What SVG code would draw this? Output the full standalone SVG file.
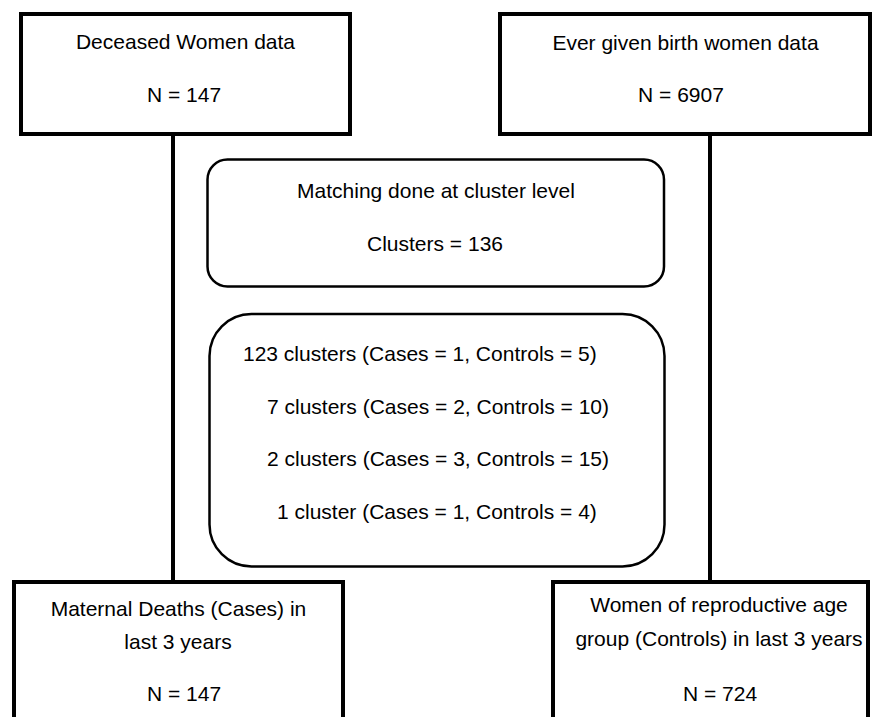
<svg xmlns="http://www.w3.org/2000/svg" width="883" height="717" viewBox="0 0 883 717">
<style>
.box{fill:#fff;stroke:#000;stroke-width:4}
.rbox{fill:#fff;stroke:#000;stroke-width:2.5}
.conn{stroke:#000;stroke-width:4;fill:none}
text{font-family:"Liberation Sans",Arial,sans-serif;font-size:21px;fill:#000}
.c{text-anchor:middle}
</style>
<rect width="883" height="717" fill="#fff"/>
<g id="connectors">
<line class="conn" x1="173" y1="134" x2="173" y2="582"/>
<line class="conn" x1="710" y1="134" x2="710" y2="582"/>
</g>
<g id="deceased">
<rect class="box" x="21" y="14" width="329" height="120"/>
<text class="c" x="185.5" y="49">Deceased Women data</text>
<text class="c" x="184" y="102">N = 147</text>
</g>
<g id="evergiven">
<rect class="box" x="500" y="14" width="370" height="120"/>
<text class="c" x="685.5" y="50">Ever given birth women data</text>
<text class="c" x="681" y="102">N = 6907</text>
</g>
<g id="matching">
<rect class="rbox" x="207.5" y="159.5" width="456.5" height="127" rx="20" ry="20"/>
<text class="c" x="436" y="198">Matching done at cluster level</text>
<text class="c" x="435" y="251">Clusters = 136</text>
</g>
<g id="clusters">
<rect class="rbox" x="209.5" y="314" width="455" height="252.5" rx="42" ry="42"/>
<text x="243" y="361">123 clusters (Cases = 1, Controls = 5)</text>
<text x="267" y="413.5">7 clusters (Cases = 2, Controls = 10)</text>
<text x="267" y="466">2 clusters (Cases = 3, Controls = 15)</text>
<text x="277" y="518.5">1 cluster (Cases = 1, Controls = 4)</text>
</g>
<g id="cases">
<rect class="box" x="14" y="582" width="329" height="160"/>
<text class="c" x="178.5" y="616">Maternal Deaths (Cases) in</text>
<text class="c" x="178" y="649">last 3 years</text>
<text class="c" x="184" y="701">N = 147</text>
</g>
<g id="controls">
<rect class="box" x="553" y="582" width="315" height="160"/>
<text class="c" x="719" y="612">Women of reproductive age</text>
<text class="c" x="719" y="646">group (Controls) in last 3 years</text>
<text class="c" x="720" y="701">N = 724</text>
</g>
</svg>
